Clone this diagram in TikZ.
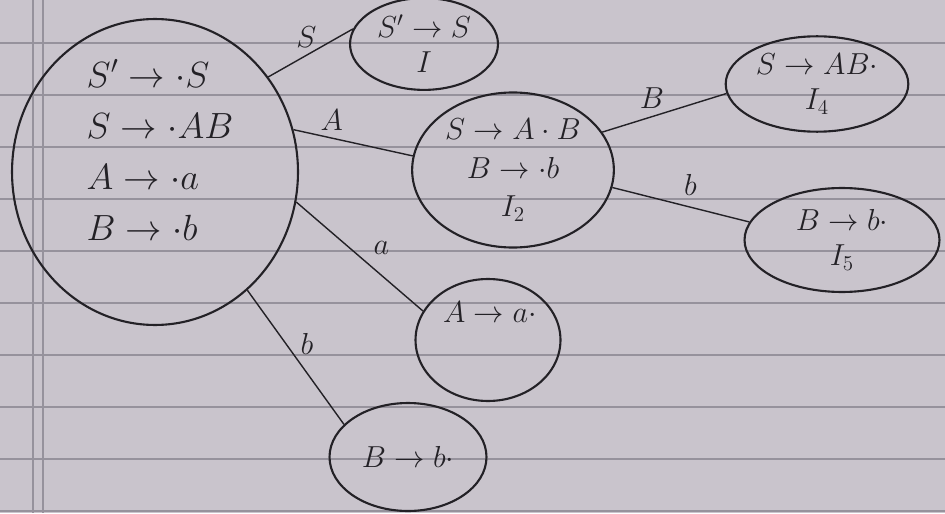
\documentclass[tikz,border=0pt]{standalone}
\usepackage{amsmath,amssymb}
\usepackage{xcolor}
\usepackage{tikz}
\usetikzlibrary{shapes.geometric,calc}
\definecolor{paperbg}{RGB}{201,196,204}
\definecolor{ruleline}{RGB}{150,146,156}
\definecolor{inkgray}{RGB}{35,33,38}
\tikzset{
  state-node/.style={draw=inkgray, ellipse, line width=1.2pt, inner sep=2pt,
    font=\LARGE, align=center, text=inkgray},
  item-text/.style={font=\huge, align=left, text=inkgray, inner sep=0pt},
  goto-edge/.style={draw=inkgray, line width=0.8pt},
  edge-label/.style={font=\LARGE, text=inkgray, inner sep=4pt},
  paper-rule/.style={draw=ruleline, line width=0.9pt}
}

\begin{document}
\begin{tikzpicture}[x=0.02cm, y=-0.02cm]
% Paper background
\fill[paperbg] (0,0) rectangle (945,513);
\useasboundingbox (0,0) rectangle (945,513);
\foreach \y in {43,95,...,511}
  \draw[paper-rule] (0,\y) -- (945,\y);
\draw[paper-rule] (33,0) -- (33,513);
\draw[paper-rule] (43,0) -- (43,513);

% Initial item set
\node[state-node, minimum width=5.72cm, minimum height=6.12cm] (i0) at (155,172) {};
\node[item-text] (i0-items) at (160,150)
  {$S'\to\cdot S$\\[4pt]
   $S\to\cdot AB$\\[4pt]
   $A\to\cdot a$\\[4pt]
   $B\to\cdot b$};

% Goto states
\node[state-node, minimum width=2.96cm, minimum height=1.64cm] (i1) at (424,44)
  {$S'\to S$\\[-2pt] $I$};
\node[state-node, minimum width=3.4cm, minimum height=2.86cm] (i2) at (513,170)
  {$S\to A\cdot B$\\ $B\to\cdot b$\\ $I_2$};
\node[state-node, minimum width=3.3cm, minimum height=1.76cm] (i4) at (817,84)
  {$S\to AB\cdot$\\[-2pt] $I_4$};
\node[state-node, minimum width=3.9cm, minimum height=2.08cm] (i5) at (842,240)
  {$B\to b\cdot$\\[-2pt] $I_5$};
\node[state-node, minimum width=2.9cm, minimum height=2.44cm] (ia) at (488,340) {};
\node[item-text, font=\LARGE] (ia-item) at (490,312) {$A\to a\cdot$};
\node[state-node, minimum width=3.14cm, minimum height=2.16cm] (ib) at (408,457)
  {$B\to b\cdot$};

% Transitions
\draw[goto-edge] (i0.40) -- node[edge-label, pos=0.45, above] {$S$} (i1.168);
\draw[goto-edge] (i0.17) -- node[edge-label, pos=0.32, above] {$A$} (i2.172);
\draw[goto-edge] (i0.-12) -- node[edge-label, pos=0.55, above right] {$a$} (ia.156);
\draw[goto-edge] (i0.-52) -- node[edge-label, pos=0.4, right, xshift=4pt] {$b$} (ib.153);
\draw[goto-edge] (i2.23) -- node[edge-label, pos=0.4, above] {$B$} (i4.-174);
\draw[goto-edge] (i2.-10) -- node[edge-label, pos=0.57, above, yshift=2pt] {$b$} (i5.169);
\end{tikzpicture}
\end{document}
